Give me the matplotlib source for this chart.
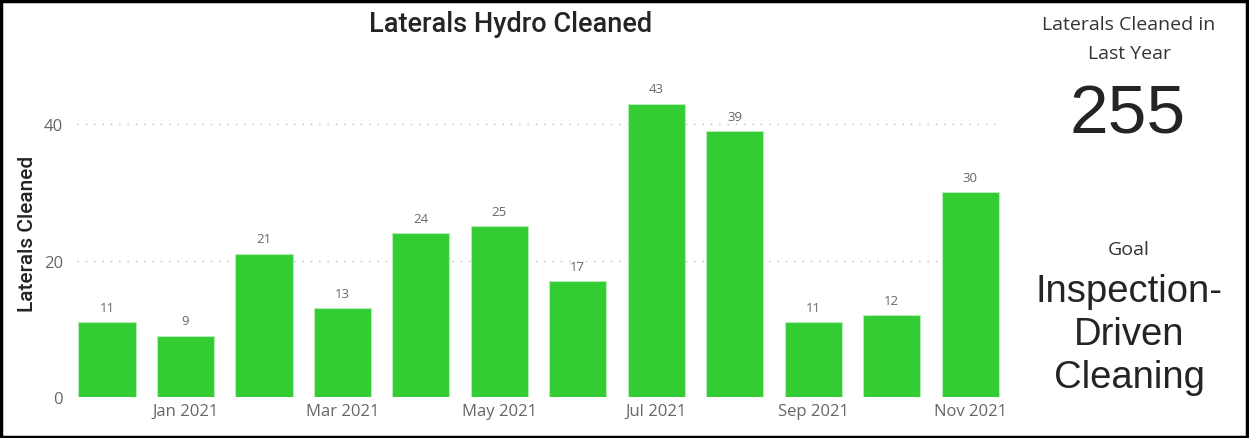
import numpy as np
import matplotlib
matplotlib.use("Agg")
from matplotlib import pyplot as plt
from matplotlib.patches import Rectangle

months = ["Dec 2020", "Jan 2021", "Feb 2021", "Mar 2021", "Apr 2021", "May 2021",
          "Jun 2021", "Jul 2021", "Aug 2021", "Sep 2021", "Oct 2021", "Nov 2021"]
cleaned = [11, 9, 21, 13, 24, 25, 17, 43, 39, 11, 12, 30]
y_ticks = [0, 20, 40]
total_label = "255"
goal_lines = ["Inspection-", "Driven", "Cleaning"]

plt.rcParams['font.family'] = ['Open Sans', 'DejaVu Sans']

fig = plt.figure(figsize=(12.49, 4.39), dpi=100)
ax = fig.add_axes([0.0617, 0.0934, 0.739, 0.7462])

x = np.arange(len(months))
bars = ax.bar(x, cleaned, width=0.73, color="#33cc33", edgecolor="#b5ecb5", linewidth=0.8, zorder=3)
for b, v in zip(bars, cleaned):
    ax.text(b.get_x() + b.get_width() / 2, v + 1.2, str(v), ha="center", va="bottom",
            fontsize=9.5, color="#666666")

ax.set_xlim(-0.38, 11.38)
ax.set_ylim(0, 48)
ax.set_yticks(y_ticks)
ax.set_xticks(x[1::2])
ax.set_xticklabels(months[1::2])
ax.tick_params(axis="both", length=0, labelsize=12, labelcolor="#666666")
ax.tick_params(axis="x", pad=4)
ax.tick_params(axis="y", pad=10)
for s in ax.spines.values():
    s.set_visible(False)
ax.yaxis.grid(True, linestyle=(0, (1, 5)), color="#bbbbbb", linewidth=1, zorder=0)
ax.set_axisbelow(True)
ax.set_ylabel("Laterals Cleaned", fontsize=15, color="#252423", labelpad=5,
              fontweight="medium", family=["Roboto", "DejaVu Sans"])

fig.text(0.409, 0.945, "Laterals Hydro Cleaned", ha="center", va="center", fontsize=19.5,
         color="#252423", fontweight="medium", family=["Roboto", "DejaVu Sans"])

# card on the right
fig.text(0.904, 0.943, "Laterals Cleaned in", ha="center", va="center", fontsize=14, color="#333333")
fig.text(0.904, 0.877, "Last Year", ha="center", va="center", fontsize=14, color="#333333")
fig.text(0.903, 0.737, total_label, ha="center", va="center", fontsize=50, color="#252423",
         family=["Liberation Sans", "DejaVu Sans"])
fig.text(0.904, 0.43, "Goal", ha="center", va="center", fontsize=14, color="#333333")
for line, yb in zip(goal_lines, [0.312, 0.214, 0.116]):
    fig.text(0.904, yb, line, ha="center", va="baseline", fontsize=27.5, color="#252423",
             family=["Liberation Sans", "DejaVu Sans"])

fig.patches.append(Rectangle((0.001, 0.002), 0.997, 0.994, transform=fig.transFigure,
                             fill=False, edgecolor="black", linewidth=2.5))

fig.savefig("out.png", dpi=100)
